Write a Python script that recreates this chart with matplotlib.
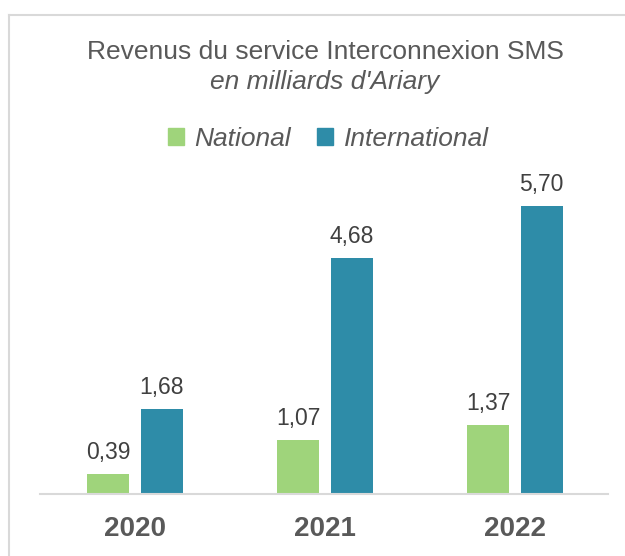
import matplotlib
matplotlib.use("Agg")
import matplotlib.pyplot as plt
from matplotlib.patches import Patch
from matplotlib.lines import Line2D
import numpy as np

years = ["2020", "2021", "2022"]
national = [0.39, 1.07, 1.37]
international = [1.68, 4.68, 5.70]
labels_nat = ["0,39", "1,07", "1,37"]
labels_int = ["1,68", "4,68", "5,70"]
series_names = ["National", "International"]

GREEN = "#9fd47b"
TEAL = "#2e8ca8"
TXT = "#595959"
plt.rcParams['font.family'] = ['Liberation Sans', 'DejaVu Sans']

fig = plt.figure(figsize=(6.25, 5.56), dpi=100)
ax = fig.add_axes([0.064, 0.1115, 0.909, 0.581])

x = np.arange(len(years))
w = 0.221
off = 0.14
b1 = ax.bar(x - off, national, w, color=GREEN)
b2 = ax.bar(x + off, international, w, color=TEAL)

for bars, labs in ((b1, labels_nat), (b2, labels_int)):
    for b, lab in zip(bars, labs):
        ax.annotate(lab, (b.get_x() + b.get_width() / 2, b.get_height()),
                    xytext=(0, 10.8), textcoords="offset points",
                    ha="center", va="baseline", fontsize=16.5, color="#404040")

ax.set_xlim(-0.5, 2.49)
ax.set_ylim(0, 6.4)
ax.set_xticks(x)
ax.set_xticklabels(years, fontsize=20, fontweight="bold", color=TXT)
ax.tick_params(axis="x", length=0, pad=16)
ax.set_yticks([])
for s in ["top", "right", "left"]:
    ax.spines[s].set_visible(False)
ax.spines["bottom"].set_color("#d9d9d9")
ax.spines["bottom"].set_linewidth(1.5)

fig.text(0.52, 1 - 52 / 556, "Revenus du service Interconnexion SMS", ha="center", va="center",
         fontsize=19, color=TXT)
fig.text(0.52, 1 - 82 / 556, "en milliards d'Ariary", ha="center", va="center",
         fontsize=19, style="italic", color=TXT)

handles = [Patch(color=GREEN), Patch(color=TEAL)]
fig.legend(handles, series_names, loc="center", bbox_to_anchor=(0.525, 1 - 139 / 556),
           ncol=2, frameon=False, handlelength=0.6, handleheight=0.6,
           handletextpad=0.4, columnspacing=1.0,
           prop={"size": 19, "style": "italic"}, labelcolor=TXT)

fig.add_artist(Line2D([9 / 625, 1], [1 - 15 / 556, 1 - 15 / 556], transform=fig.transFigure,
                      color="#d9d9d9", lw=1.5))
fig.add_artist(Line2D([9 / 625, 9 / 625], [0, 1 - 15 / 556], transform=fig.transFigure,
                      color="#d9d9d9", lw=1.5))

fig.savefig("out.png", dpi=100)
